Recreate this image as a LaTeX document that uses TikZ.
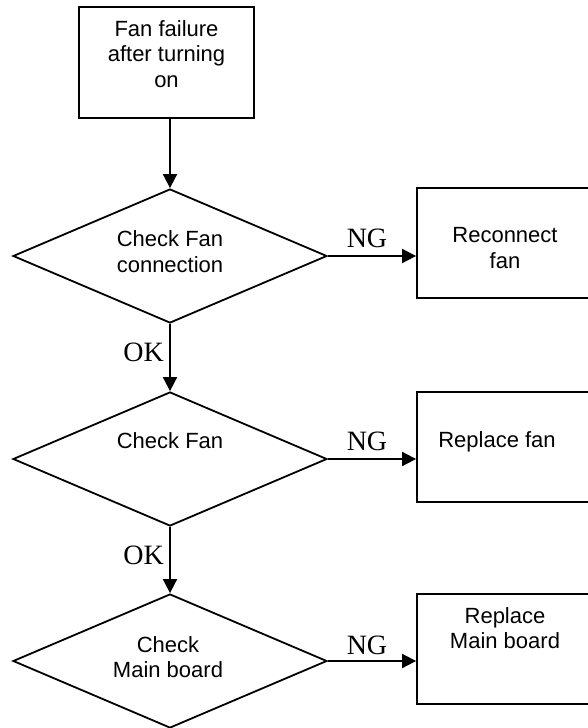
\documentclass[tikz,border=0pt]{standalone}
\usepackage{fontspec}
\setmainfont{Liberation Sans}
\newfontfamily\serifng{Liberation Serif}
\usetikzlibrary{shapes.geometric,arrows.meta}
\begin{document}
\begin{tikzpicture}[x=1pt,y=-1pt,
  every node/.style={font=\fontsize{22}{25.5}\selectfont},
  box/.style={draw, line width=1.8pt, rectangle, inner sep=0pt, minimum height=110pt},
  dia/.style={draw, line width=1.8pt, diamond, inner sep=0pt, minimum width=314pt, minimum height=134pt},
  txt/.style={align=center, inner sep=0pt},
  lbl/.style={inner sep=0pt, font=\serifng\fontsize{28}{30}\selectfont},
  arr/.style={line width=1.8pt, -{Triangle[length=14pt,width=14pt]}}]
\useasboundingbox (0,0) rectangle (587,728);
% shapes
\node[box, minimum width=175pt, minimum height=111pt] (top) at (166.5,62.5) {};
\node[dia] (d1) at (170,256) {};
\node[dia] (d2) at (170,459) {};
\node[dia] (d3) at (170,661) {};
\node[box, minimum width=176pt] (b1) at (505,243) {};
\node[box, minimum width=176pt] (b2) at (505,447) {};
\node[box, minimum width=176pt] (b3) at (505,649) {};
% texts
\node[txt] (ttop) at (166.5,54) {Fan failure\\after turning\\on};
\node[txt] (td1) at (170,251.5) {Check Fan\\connection};
\node[txt] (td2) at (170,441) {Check Fan};
\node[txt] (td3) at (168,657) {Check\\Main board};
\node[txt] (tb1) at (505,248) {Reconnect\\fan};
\node[txt] (tb2) at (497,442) {Replace fan};
\node[txt] (tb3) at (505,628) {Replace\\Main board};
% labels
\node[lbl] (ng1) at (367,238.5) {NG};
\node[lbl] (ng2) at (367,441.5) {NG};
\node[lbl] (ng3) at (367,645) {NG};
\node[lbl, anchor=east] (ok1) at (164,352) {OK};
\node[lbl, anchor=east] (ok2) at (164,555) {OK};
% connectors
\draw[arr] (top.south -| d1.north) -- (d1.north);
\draw[arr] (d1.south) -- (d2.north);
\draw[arr] (d2.south) -- (d3.north);
\draw[arr] (d1.east) -- (d1.east -| b1.west);
\draw[arr] (d2.east) -- (d2.east -| b2.west);
\draw[arr] (d3.east) -- (d3.east -| b3.west);
\end{tikzpicture}
\end{document}
